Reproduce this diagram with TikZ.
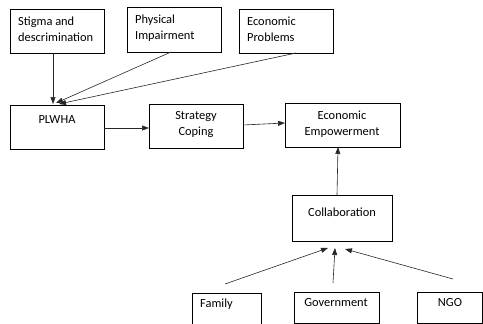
\documentclass[tikz,border=0pt]{standalone}
\usepackage{fontspec}
\setmainfont{Carlito}
\usetikzlibrary{arrows.meta}
\begin{document}
\begin{tikzpicture}[x=1pt,y=-1pt,
  box/.style={draw=black,line width=0.7pt,inner sep=0pt,anchor=north west},
  txt/.style={font=\fontsize{12.4}{16}\selectfont,inner sep=0pt,align=center},
  ltxt/.style={font=\fontsize{12.4}{16}\selectfont,inner sep=0pt,align=left,anchor=north west},
  conn/.style={draw=black!85,line width=0.6pt,-{Triangle[length=7pt,width=5pt]}}]
\useasboundingbox (0,0) rectangle (483,324);
% boxes
\node[box,minimum width=94pt,minimum height=44pt] (stigma) at (10,9) {};
\node[box,minimum width=94pt,minimum height=45pt] (phys) at (127,7) {};
\node[box,minimum width=94pt,minimum height=44pt] (econp) at (239,9) {};
\node[box,minimum width=94pt,minimum height=44pt] (plwha) at (10,105) {};
\node[box,minimum width=94pt,minimum height=44pt] (strat) at (149,104) {};
\node[box,minimum width=115pt,minimum height=44pt] (empow) at (285,103) {};
\node[box,minimum width=100pt,minimum height=46pt] (collab) at (292,195) {};
\begin{scope}
\clip (0,0) rectangle (483,324);
\node[box,minimum width=69pt,minimum height=40pt] (family) at (192,293) {};
\end{scope}
\node[box,minimum width=85pt,minimum height=31pt] (gov) at (294,292) {};
\node[box,minimum width=65pt,minimum height=31pt] (ngo) at (417,292) {};
% texts
\node[ltxt] (tstigma) at (18,17) {Stigma and\\descrimination};
\node[ltxt] (tphys) at (135,15) {Physical\\Impairment};
\node[ltxt] (tecon) at (247,17) {Economic\\Problems};
\node[txt] (tplwha) at (57,120) {PLWHA};
\node[txt] (tstrat) at (196,125) {Strategy\\Coping};
\node[txt] (tempow) at (342,124) {Economic\\Empowerment};
\node[txt] (tcollab) at (342,212) {Collaboration};
\node[ltxt] (tfamily) at (200,299) {Family};
\node[txt] (tgov) at (336,303) {Government};
\node[txt] (tngo) at (450,303) {NGO};
% connector end points
\coordinate (s1) at (53,53);  \coordinate (e1) at (53,104);
\coordinate (s2) at (171,52); \coordinate (e2) at (56,103);
\coordinate (s3) at (296,53); \coordinate (e3) at (59,104);
\coordinate (s4) at (104,128); \coordinate (e4) at (149,128);
\coordinate (s5) at (243,125); \coordinate (e5) at (285,123);
\coordinate (s6) at (337,195); \coordinate (e6) at (338,147);
\coordinate (s7) at (225,284); \coordinate (e7) at (328,248);
\coordinate (s8) at (333,283); \coordinate (e8) at (335,248);
\coordinate (s9) at (453,279); \coordinate (e9) at (345,249);
\draw[conn] (s1) -- (e1);
\draw[conn] (s2) -- (e2);
\draw[conn] (s3) -- (e3);
\draw[conn] (s4) -- (e4);
\draw[conn] (s5) -- (e5);
\draw[conn] (s6) -- (e6);
\draw[conn] (s7) -- (e7);
\draw[conn] (s8) -- (e8);
\draw[conn] (s9) -- (e9);
\end{tikzpicture}
\end{document}
